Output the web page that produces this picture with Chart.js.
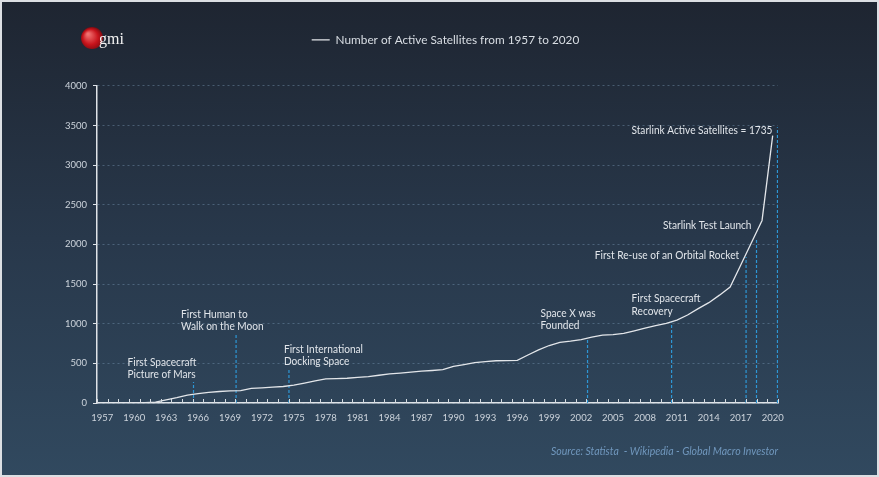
<!DOCTYPE html>
<html>
<head>
<meta charset="utf-8">
<script src="https://cdn.jsdelivr.net/npm/chart.js@4.4.0/dist/chart.umd.min.js"></script>
<style>
  html, body { margin: 0; padding: 0; background: #ffffff; }
  canvas { display: block; }
</style>
</head>
<body>
<canvas id="grafico" width="879" height="477"></canvas>
<script>
// dados
const anos = [
  1957, 1958, 1959, 1960, 1961, 1962, 1963, 1964, 1965, 1966, 1967, 1968, 1969,
  1970, 1971, 1972, 1973, 1974, 1975, 1976, 1977, 1978, 1979, 1980, 1981, 1982,
  1983, 1984, 1985, 1986, 1987, 1988, 1989, 1990, 1991, 1992, 1993, 1994, 1995,
  1996, 1997, 1998, 1999, 2000, 2001, 2002, 2003, 2004, 2005, 2006, 2007, 2008,
  2009, 2010, 2011, 2012, 2013, 2014, 2015, 2016, 2017, 2018, 2019, 2020
];
const satelites = [
  0, 0, 1, 2, 5, 12, 40, 68, 100, 118, 135, 145, 152,
  155, 185, 192, 200, 208, 225, 252, 280, 303, 308, 312, 322, 333,
  350, 366, 378, 390, 402, 410, 420, 462, 485, 508, 522, 533, 535,
  538, 605, 670, 725, 764, 780, 800, 830, 855, 862, 877, 910, 945,
  975, 1003, 1045, 1110, 1190, 1265, 1360, 1463, 1740, 2020, 2302, 3371
];
const anosRotulo = [
  1957, 1960, 1963, 1966, 1969, 1972, 1975, 1978, 1981, 1984, 1987, 1990,
  1993, 1996, 1999, 2002, 2005, 2008, 2011, 2014, 2017, 2020
];
const eixoY = [0, 500, 1000, 1500, 2000, 2500, 3000, 3500, 4000];

// eventos marcados com linha tracejada
const eventosAno = [1965.57, 1969.57, 1974.54, 2002.6, 2010.5, 2017.5, 2018.48, 2020.45];
const eventosTopo = [264, 880, 440, 793, 1015, 1840, 2060, 3476];
const eventosTexto = [
  ["First Spacecraft", "Picture of Mars"],
  ["First Human to", "Walk on the Moon"],
  ["First International", "Docking Space"],
  ["Space X was", "Founded"],
  ["First Spacecraft", "Recovery"],
  ["First Re-use of an Orbital Rocket"],
  ["Starlink Test Launch"],
  ["Starlink Active Satellites = 1735"]
];

// posição dos textos em relação ao topo da linha tracejada
const notas = [
  { dx: -66, dy: -20, align: "left" },
  { dx: -55, dy: -19, align: "left" },
  { dx: -5, dy: -19, align: "left" },
  { dx: -47, dy: -27, align: "left" },
  { dx: -40, dy: -24, align: "left" },
  { dx: -7, dy: -2, align: "right" },
  { dx: -5, dy: -14, align: "right" },
  { dx: -5, dy: 3, align: "right" }
];

const fonte = "Lato, 'Open Sans', sans-serif";

const limites = [1956.5].concat(anos.map((a) => a + 0.5));

const decoracao = {
  id: "decoracao",
  beforeDraw(chart) {
    const { ctx, width, height } = chart;
    const g = ctx.createLinearGradient(0, 0, 0, height);
    g.addColorStop(0, "#1e2531");
    g.addColorStop(0.5, "#28384b");
    g.addColorStop(1, "#31495f");
    ctx.save();
    ctx.fillStyle = g;
    ctx.fillRect(0, 0, width, height);
    ctx.strokeStyle = "#dcdfe3";
    ctx.lineWidth = 2;
    ctx.strokeRect(1, 1, width - 2, height - 2);
    ctx.restore();
  },
  afterDatasetsDraw(chart) {
    const { ctx } = chart;
    const x = chart.scales.x;
    const y = chart.scales.y;
    ctx.save();

    // marcas do eixo x para dentro
    ctx.strokeStyle = "#d5dbe1";
    ctx.lineWidth = 1;
    x.ticks.forEach((t) => {
      const px = Math.round(x.getPixelForValue(t.value)) + 0.5;
      ctx.beginPath();
      ctx.moveTo(px, y.bottom);
      ctx.lineTo(px, y.bottom - 4);
      ctx.stroke();
    });

    // textos dos eventos
    ctx.fillStyle = "#e2e6eb";
    ctx.font = "11px " + fonte;
    ctx.textBaseline = "middle";
    eventosTexto.forEach((linhas, i) => {
      const n = notas[i];
      const px = x.getPixelForValue(eventosAno[i]) + n.dx;
      const py = y.getPixelForValue(eventosTopo[i]) + n.dy;
      ctx.textAlign = n.align;
      linhas.forEach((txt, k) => {
        const w = ctx.measureText(txt).width * 0.92;
        ctx.fillText(txt, px, py + k * 12.5, w);
      });
    });
    ctx.restore();
  },
  afterDraw(chart) {
    const { ctx } = chart;
    ctx.save();
    // logo gmi
    const rg = ctx.createRadialGradient(88, 34, 1, 92, 39, 12);
    rg.addColorStop(0, "#f07070");
    rg.addColorStop(0.6, "#c8141c");
    rg.addColorStop(1, "#7a0a10");
    ctx.fillStyle = rg;
    ctx.beginPath();
    ctx.arc(92, 38, 11, 0, Math.PI * 2);
    ctx.fill();
    ctx.fillStyle = "#f4f4f4";
    ctx.font = "16px 'Liberation Serif', 'DejaVu Serif', serif";
    ctx.textAlign = "left";
    ctx.textBaseline = "alphabetic";
    ctx.fillText("gmi", 99, 44);

    // fonte
    ctx.fillStyle = "#7097bd";
    ctx.font = "italic 10.5px " + fonte;
    ctx.textAlign = "left";
    ctx.textBaseline = "middle";
    const src = "Source: Statista  - Wikipedia - Global Macro Investor";
    ctx.fillText(src, 551, 452, 229);
    ctx.restore();
  }
};

const datasets = [
  {
    label: "Number of Active Satellites from 1957 to 2020",
    data: anos.map((a, i) => ({ x: a, y: satelites[i] })),
    xAxisID: "x",
    yAxisID: "y",
    borderColor: "#e3e6ea",
    backgroundColor: "#e3e6ea",
    borderWidth: 1.3,
    pointRadius: 0,
    pointStyle: "line",
    tension: 0
  }
];
eventosAno.forEach((a, i) => {
  datasets.push({
    label: eventosTexto[i].join(" "),
    data: [{ x: a, y: 0 }, { x: a, y: eventosTopo[i] }],
    xAxisID: "x",
    yAxisID: "y",
    borderColor: "#2d97d6",
    borderWidth: 1.2,
    borderDash: [3, 2],
    pointRadius: 0
  });
});

new Chart(document.getElementById("grafico"), {
  type: "line",
  data: { datasets },
  options: {
    responsive: false,
    devicePixelRatio: 1,
    animation: false,
    layout: { padding: { top: 24, right: 0, bottom: 0, left: 12 } },
    plugins: {
      tooltip: { enabled: false },
      legend: {
        display: true,
        position: "top",
        labels: {
          filter: (item) => item.datasetIndex === 0,
          usePointStyle: true,
          pointStyleWidth: 18,
          padding: 10,
          color: "#d9dee4",
          font: { family: fonte, size: 11.8 }
        }
      }
    },
    scales: {
      x: {
        type: "linear",
        min: 1956.5,
        max: 2020.5,
        afterBuildTicks: (s) => {
          s.ticks = limites.map((v) => ({ value: v }));
        },
        afterFit: (s) => {
          s.height = 74;
        },
        grid: { display: false, drawTicks: false },
        border: { display: true, color: "#dfe3e8", width: 1.5 },
        ticks: {
          autoSkip: false,
          maxRotation: 0,
          padding: 9,
          labelOffset: 5.3,
          color: "#cdd4dc",
          font: { family: fonte, size: 9.5 },
          callback: (v) => {
            const ano = Math.round(v + 0.5);
            return anosRotulo.includes(ano) ? String(ano) : "";
          }
        }
      },
      topo: {
        type: "linear",
        position: "top",
        display: true,
        afterFit: (s) => {
          s.height = 30;
        },
        grid: { display: false },
        border: { display: false },
        ticks: { display: false }
      },
      direita: {
        type: "linear",
        position: "right",
        display: true,
        afterFit: (s) => {
          s.width = 101;
        },
        grid: { display: false },
        border: { display: false },
        ticks: { display: false }
      },
      y: {
        min: 0,
        max: 4000,
        afterBuildTicks: (s) => {
          s.ticks = eixoY.map((v) => ({ value: v }));
        },
        afterFit: (s) => {
          s.width = 85;
        },
        grid: {
          color: "rgba(120, 150, 180, 0.45)",
          lineWidth: 1,
          drawTicks: true,
          tickLength: 4,
          tickColor: "#dfe3e8"
        },
        border: { display: true, color: "#dfe3e8", width: 1.5, dash: [2, 3] },
        ticks: {
          padding: 6,
          color: "#cdd4dc",
          font: { family: fonte, size: 9.5 },
          callback: (v) => String(v)
        }
      }
    }
  },
  plugins: [decoracao]
});
</script>
</body>
</html>
